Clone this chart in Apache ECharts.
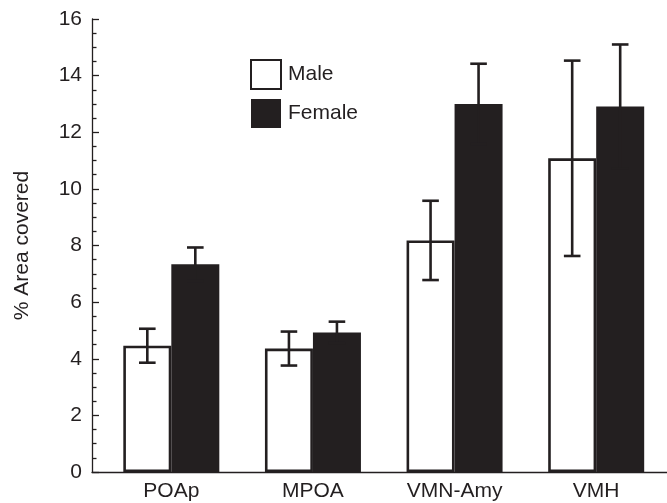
<!DOCTYPE html>
<html>
<head>
<meta charset="utf-8">
<script src="https://cdn.jsdelivr.net/npm/echarts@6/dist/echarts.min.js"></script>
<style>
  html, body { margin: 0; padding: 0; background: #fff; }
  #chart { width: 667px; height: 503px; }
</style>
</head>
<body>
<div id="chart"></div>
<script>
// data
var categories = ['POAp', 'MPOA', 'VMN-Amy', 'VMH'];
var maleMean = [4.46, 4.36, 8.18, 11.08];
var maleSem = [0.6, 0.6, 1.4, 3.45];
var femaleMean = [7.34, 4.93, 13.0, 12.91];
var femaleSem = [0.59, 0.38, 1.42, 2.19];
var yTicks = [0, 2, 4, 6, 8, 10, 12, 14, 16];

var ink = '#231f20';
var font = 'Liberation Sans, Arial, Helvetica, sans-serif';

function errData(mean, sem) {
    return mean.map(function (m, i) { return [i, m - sem[i], m + sem[i]]; });
}

// error bar drawn at the bar's centre (offset in px from category centre)
function errItem(offset) {
    return function (params, api) {
        var lo = api.coord([api.value(0), api.value(1)]);
        var hi = api.coord([api.value(0), api.value(2)]);
        var x = lo[0] + offset;
        var cap = 8.3;
        var st = { stroke: ink, lineWidth: 2.6 };
        return {
            type: 'group',
            children: [
                { type: 'line', shape: { x1: x, y1: lo[1], x2: x, y2: hi[1] }, style: st },
                { type: 'line', shape: { x1: x - cap, y1: hi[1], x2: x + cap, y2: hi[1] }, style: st },
                { type: 'line', shape: { x1: x - cap, y1: lo[1], x2: x + cap, y2: lo[1] }, style: st }
            ]
        };
    };
}

var chart = echarts.init(document.getElementById('chart'));
var option = {
    animation: false,
    textStyle: { fontFamily: font, color: ink },
    legend: {
        orient: 'vertical',
        left: 245,
        top: 54,
        icon: 'rect',
        itemWidth: 30,
        itemHeight: 29,
        itemGap: 9,
        data: ['Male', 'Female'],
        textStyle: { fontSize: 21, color: ink, fontFamily: font, padding: [0, 0, 0, 2] }
    },
    grid: [
        { left: 92, right: 0, top: 19, bottom: 31 },
        { left: 100.5, right: -2.8, top: 19, bottom: 31 }
    ],
    xAxis: [
        {
            gridIndex: 0,
            type: 'category',
            data: categories,
            axisLine: { show: true, lineStyle: { color: ink, width: 1.3 } },
            axisTick: { show: false },
            axisLabel: { show: false }
        },
        {
            gridIndex: 1,
            type: 'category',
            data: categories,
            axisLine: { show: false },
            axisTick: { show: false },
            axisLabel: { fontSize: 21, color: ink, fontFamily: font, margin: 9 }
        }
    ],
    yAxis: [
        {
            gridIndex: 0,
            type: 'value',
            min: yTicks[0],
            max: yTicks[yTicks.length - 1],
            interval: 2,
            name: '% Area covered',
            nameLocation: 'middle',
            nameGap: 59,
            nameTextStyle: { fontSize: 21, color: ink, fontFamily: font },
            axisLine: { show: true, lineStyle: { color: ink, width: 1.3 } },
            axisTick: { show: true, inside: true, length: 7, lineStyle: { color: ink, width: 1.3 } },
            minorTick: { show: true, splitNumber: 4, length: 4.5, lineStyle: { color: ink, width: 1.3 } },
            axisLabel: { fontSize: 21, color: ink, fontFamily: font, margin: 10 },
            splitLine: { show: false }
        },
        {
            gridIndex: 1,
            type: 'value',
            min: yTicks[0],
            max: yTicks[yTicks.length - 1],
            show: false
        }
    ],
    series: [
        {
            name: 'Male',
            type: 'bar',
            xAxisIndex: 1,
            yAxisIndex: 1,
            barWidth: 48,
            barGap: '0%',
            data: maleMean,
            itemStyle: { color: '#ffffff', borderColor: ink, borderWidth: 2.6 }
        },
        {
            name: 'Female',
            type: 'bar',
            xAxisIndex: 1,
            yAxisIndex: 1,
            barWidth: 48,
            data: femaleMean,
            itemStyle: { color: ink }
        },
        {
            name: 'maleErr',
            type: 'custom',
            xAxisIndex: 1,
            yAxisIndex: 1,
            z: 5,
            renderItem: errItem(-24),
            data: errData(maleMean, maleSem)
        },
        {
            name: 'femaleErr',
            type: 'custom',
            xAxisIndex: 1,
            yAxisIndex: 1,
            z: 5,
            renderItem: errItem(24),
            data: errData(femaleMean, femaleSem)
        }
    ]
};
chart.setOption(option);
</script>
</body>
</html>
